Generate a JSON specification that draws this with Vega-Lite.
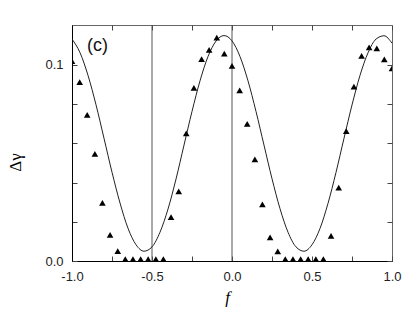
{
  "$schema": "https://vega.github.io/schema/vega-lite/v6.json",
  "width": 320,
  "height": 236,
  "autosize": {"type": "none"},
  "padding": {"left": 72, "top": 25, "right": 25, "bottom": 50},
  "background": "white",
  "config": {
    "view": {"stroke": "#666", "strokeWidth": 1},
    "axis": {"grid": false, "labelFont": "Liberation Sans", "labelFontSize": 13, "labelColor": "#222", "tickColor": "#444", "tickSize": -5, "labelOverlap": false, "labelFlush": false}
  },
  "datasets": {
    "curve": [
      {"f": -1.00, "g": 0.1132}, {"f": -0.95, "g": 0.1063}, {"f": -0.90, "g": 0.0947}, {"f": -0.85, "g": 0.0797},
      {"f": -0.80, "g": 0.0626}, {"f": -0.75, "g": 0.0453}, {"f": -0.70, "g": 0.0296}, {"f": -0.65, "g": 0.0167},
      {"f": -0.60, "g": 0.0083}, {"f": -0.55, "g": 0.0050}, {"f": -0.50, "g": 0.0072}, {"f": -0.45, "g": 0.0147},
      {"f": -0.40, "g": 0.0265}, {"f": -0.35, "g": 0.0418}, {"f": -0.30, "g": 0.0591}, {"f": -0.25, "g": 0.0763},
      {"f": -0.20, "g": 0.0919}, {"f": -0.15, "g": 0.1043}, {"f": -0.10, "g": 0.1122}, {"f": -0.05, "g": 0.1150},
      {"f": 0.00, "g": 0.1123}, {"f": 0.05, "g": 0.1043}, {"f": 0.10, "g": 0.0919}, {"f": 0.15, "g": 0.0763},
      {"f": 0.20, "g": 0.0591}, {"f": 0.25, "g": 0.0420}, {"f": 0.30, "g": 0.0267}, {"f": 0.35, "g": 0.0147},
      {"f": 0.40, "g": 0.0072}, {"f": 0.45, "g": 0.0050}, {"f": 0.50, "g": 0.0083}, {"f": 0.55, "g": 0.0166},
      {"f": 0.60, "g": 0.0294}, {"f": 0.65, "g": 0.0452}, {"f": 0.70, "g": 0.0626}, {"f": 0.75, "g": 0.0796},
      {"f": 0.80, "g": 0.0947}, {"f": 0.85, "g": 0.1062}, {"f": 0.90, "g": 0.1132}, {"f": 0.95, "g": 0.1149},
      {"f": 1.00, "g": 0.1111}
    ],
    "tri": [
      {"f": -1.000, "g": 0.1020}, {"f": -0.952, "g": 0.0912}, {"f": -0.905, "g": 0.0745}, {"f": -0.857, "g": 0.0546},
      {"f": -0.810, "g": 0.0297}, {"f": -0.762, "g": 0.0133}, {"f": -0.714, "g": 0.0051}, {"f": -0.667, "g": 0.001},
      {"f": -0.619, "g": 0.001}, {"f": -0.571, "g": 0.001}, {"f": -0.524, "g": 0.001}, {"f": -0.476, "g": 0.001},
      {"f": -0.429, "g": 0.001}, {"f": -0.381, "g": 0.0224}, {"f": -0.333, "g": 0.0355}, {"f": -0.286, "g": 0.0651},
      {"f": -0.238, "g": 0.0883}, {"f": -0.190, "g": 0.1030}, {"f": -0.143, "g": 0.1077}, {"f": -0.095, "g": 0.1140},
      {"f": -0.048, "g": 0.1058}, {"f": 0.000, "g": 0.0996}, {"f": 0.048, "g": 0.0871}, {"f": 0.095, "g": 0.0699},
      {"f": 0.143, "g": 0.0519}, {"f": 0.190, "g": 0.0289}, {"f": 0.238, "g": 0.0121}, {"f": 0.286, "g": 0.0049},
      {"f": 0.333, "g": 0.001}, {"f": 0.381, "g": 0.001}, {"f": 0.429, "g": 0.001}, {"f": 0.476, "g": 0.001},
      {"f": 0.524, "g": 0.001}, {"f": 0.571, "g": 0.001}, {"f": 0.619, "g": 0.0128}, {"f": 0.667, "g": 0.0374},
      {"f": 0.714, "g": 0.0663}, {"f": 0.762, "g": 0.0889}, {"f": 0.810, "g": 0.1047}, {"f": 0.857, "g": 0.1090},
      {"f": 0.905, "g": 0.1085}, {"f": 0.952, "g": 0.1029}, {"f": 1.000, "g": 0.0983}
    ],
    "vlines": [{"f": -0.5}, {"f": 0.0}],
    "lab": [{"f": -0.84, "g": 0.1095, "t": "(c)"}]
  },
  "layer": [
    {
      "data": {"name": "vlines"},
      "mark": {"type": "rule", "color": "#555", "strokeWidth": 1},
      "encoding": {
        "x": {"field": "f", "type": "quantitative", "scale": {"domain": [-1, 1], "nice": false}, "axis": null}
      }
    },
    {
      "data": {"name": "curve"},
      "mark": {"type": "line", "color": "#222", "strokeWidth": 1, "interpolate": "monotone", "clip": true},
      "encoding": {
        "x": {"field": "f", "type": "quantitative", "scale": {"domain": [-1, 1], "nice": false},
          "axis": {"orient": "bottom", "values": [-1, -0.75, -0.5, -0.25, 0, 0.25, 0.5, 0.75, 1],
            "labelExpr": "abs(datum.value*2 - round(datum.value*2)) < 0.001 ? ((datum.value < 0 ? '-' : '') + format(abs(datum.value), '.1f')) : ''",
            "domainColor": "#000", "labelPadding": 14,
            "title": "f", "titleFont": "Liberation Serif", "titleFontStyle": "italic", "titleFontWeight": "normal", "titleFontSize": 17, "titleX": 155, "titleY": 36, "titleBaseline": "middle", "titleAlign": "center"}},
        "y": {"field": "g", "type": "quantitative", "scale": {"domain": [0, 0.1204], "nice": false, "zero": false},
          "axis": {"orient": "left", "values": [0, 0.02, 0.04, 0.06, 0.08, 0.1],
            "labelExpr": "datum.value == 0 ? '0.0' : (abs(datum.value - 0.1) < 0.000001 ? '0.1' : '')",
            "domainColor": "#000", "labelPadding": 14,
            "title": "Δγ", "titleFont": "Liberation Serif", "titleFontWeight": "normal", "titleFontSize": 17, "titleX": -57, "titleY": 137, "titleBaseline": "middle", "titleAlign": "center"}}
      }
    },
    {
      "data": {"name": "tri"},
      "mark": {"type": "point", "shape": "triangle-up", "filled": true, "color": "#000", "opacity": 1, "size": 44, "clip": true},
      "encoding": {
        "x": {"field": "f", "type": "quantitative", "scale": {"domain": [-1, 1], "nice": false},
          "axis": {"orient": "top", "values": [-1, -0.75, -0.5, -0.25, 0, 0.25, 0.5, 0.75, 1], "labels": false, "domain": false, "title": null}},
        "y": {"field": "g", "type": "quantitative", "scale": {"domain": [0, 0.1204], "nice": false, "zero": false},
          "axis": {"orient": "right", "values": [0, 0.02, 0.04, 0.06, 0.08, 0.1], "labels": false, "domain": false, "title": null}}
      }
    },
    {
      "data": {"name": "lab"},
      "mark": {"type": "text", "font": "Liberation Sans", "fontSize": 18, "color": "#111", "align": "center", "baseline": "middle"},
      "encoding": {
        "x": {"field": "f", "type": "quantitative", "axis": null},
        "y": {"field": "g", "type": "quantitative", "axis": null},
        "text": {"field": "t"}
      }
    }
  ],
  "resolve": {"axis": {"x": "independent", "y": "independent"}}
}
